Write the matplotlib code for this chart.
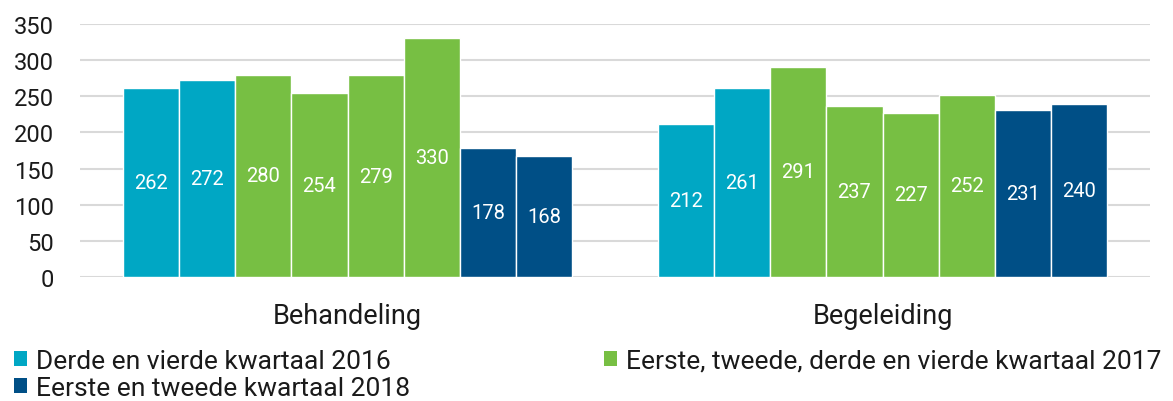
import matplotlib
matplotlib.use("Agg")
import matplotlib.pyplot as plt
from matplotlib.patches import Patch
import numpy as np

categories = ["Behandeling", "Begeleiding"]
behandeling = [262, 272, 280, 254, 279, 330, 178, 168]
begeleiding = [212, 261, 291, 237, 227, 252, 231, 240]
bar_period = [0, 0, 1, 1, 1, 1, 2, 2]
period_labels = ["Derde en vierde kwartaal 2016",
                 "Eerste, tweede, derde en vierde kwartaal 2017",
                 "Eerste en tweede kwartaal 2018"]
period_colors = ["#00A7C4", "#77BF43", "#004F86"]
yticks = [0, 50, 100, 150, 200, 250, 300, 350]

plt.rcParams['font.family'] = ['Roboto', 'DejaVu Sans']

fig = plt.figure(figsize=(11.73, 4.02), dpi=100)
ax = fig.add_axes([80/1173, 1-278/402, 1070/1173, 253/402])

values = np.array([behandeling, begeleiding])
nbars = values.shape[1]
bw = 0.84 / nbars
x = np.arange(len(categories))
for i in range(nbars):
    pos = x - 0.42 + bw * (i + 0.5)
    col = period_colors[bar_period[i]]
    bars = ax.bar(pos, values[:, i], width=bw, color=col, edgecolor='white',
                  linewidth=1.0, zorder=3)
    for b, v in zip(bars, values[:, i]):
        ax.text(b.get_x() + b.get_width()/2, v/2, str(v), ha='center', va='center',
                color='white', fontsize=14.5, zorder=4)

ax.set_xlim(-0.5, 1.5)
ax.set_ylim(0, 350)
ax.set_yticks(yticks)
ax.set_xticks(x)
ax.set_xticklabels(categories, fontsize=19.5, color='#1a1a1a')
ax.tick_params(axis='y', length=0, pad=19, labelsize=17, labelcolor='#1a1a1a')
ax.tick_params(axis='x', length=0, pad=18)
ax.grid(axis='y', color='#d9d9d9', linewidth=1.5, zorder=0)
for s in ax.spines.values():
    s.set_visible(False)

h = [Patch(facecolor=c) for c in period_colors]
common = dict(loc='upper left', frameon=False, fontsize=19,
              handlelength=0.49, handleheight=0.49, handletextpad=0.34,
              labelspacing=0.12, borderaxespad=0, borderpad=0, labelcolor='#1a1a1a')
leg1 = fig.legend([h[0], h[2]], [period_labels[0], period_labels[2]],
                  bbox_to_anchor=(14/1173, 1-350/402), **common)
leg2 = fig.legend([h[1]], [period_labels[1]],
                  bbox_to_anchor=(604/1173, 1-350/402), **common)

fig.savefig("out.png", dpi=100)
